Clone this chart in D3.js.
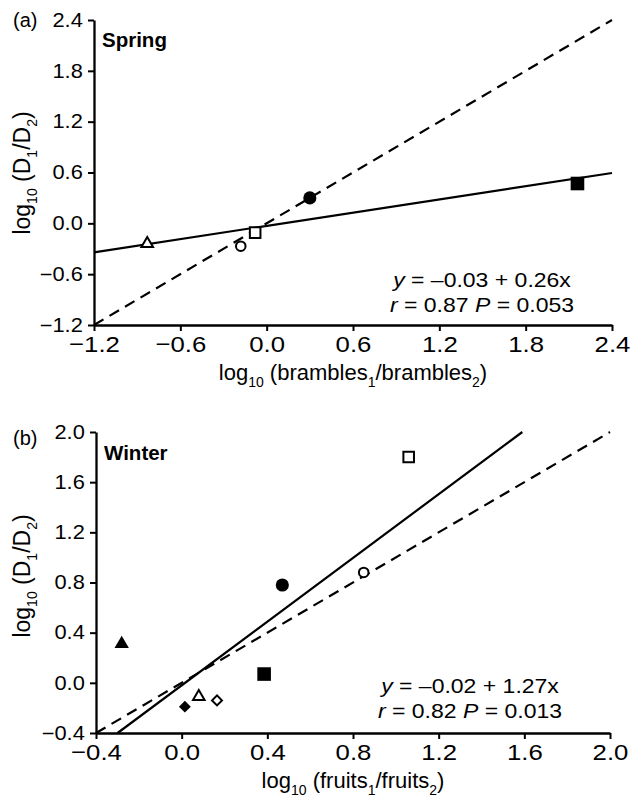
<!DOCTYPE html>
<html>
<head>
<meta charset="utf-8">
<script src="https://cdn.jsdelivr.net/npm/d3@7"></script>
<style>
  body { margin: 0; background: #fff; }
  svg { display: block; font-family: "Liberation Sans", Arial, sans-serif; }
</style>
</head>
<body>
<div id="app"></div>
<script>
// --- data ---
const springX = [-0.83, -0.18, -0.08, 0.30, 2.16];
const springY = [-0.24, -0.27, -0.11, 0.30, 0.47];
const springShapes = ['triangle', 'circle', 'square', 'circle', 'square'];
const springFilled = [false, false, false, true, true];
const springTicks = [-1.2, -0.6, 0, 0.6, 1.2, 1.8, 2.4];
const springFit = [-0.03, 0.26];
const springStats = ['–0.03', '0.26', '0.87', '0.053'];

const winterX = [-0.28, 0.015, 0.08, 0.165, 0.385, 0.47, 0.85, 1.06];
const winterY = [0.31, -0.19, -0.11, -0.14, 0.07, 0.78, 0.88, 1.80];
const winterShapes = ['triangle', 'diamond', 'triangle', 'diamond', 'square', 'circle', 'circle', 'square'];
const winterFilled = [true, true, false, false, true, true, false, false];
const winterTicks = [-0.4, 0, 0.4, 0.8, 1.2, 1.6, 2.0];
const winterFit = [-0.02, 1.27];
const winterStats = ['–0.02', '1.27', '0.82', '0.013'];

// --- layout ---
const W = 642, H = 806;
const font = '"Liberation Sans", Arial, sans-serif';
const stretch = 'scale(1.12,1)';

const panels = [
  {
    tag: '(a)', season: 'Spring', xs: springX, ys: springY, shapes: springShapes,
    filled: springFilled, ticks: springTicks, fit: springFit, stats: springStats,
    xword: 'brambles',
    left: 94, right: 612, top: 20, bottom: 325,
    eqX: 482, eqY: 287, tagY: 27, seasonY: 47, xTitleY: 380, yTitleY: 173,
  },
  {
    tag: '(b)', season: 'Winter', xs: winterX, ys: winterY, shapes: winterShapes,
    filled: winterFilled, ticks: winterTicks, fit: winterFit, stats: winterStats,
    xword: 'fruits',
    left: 96, right: 610, top: 432, bottom: 733,
    eqX: 470, eqY: 693, tagY: 445, seasonY: 460, xTitleY: 788, yTitleY: 576,
  },
];

const markerSize = {
  circle: { true: 135, false: 72 },
  square: { true: 185, false: 112 },
  triangle: { true: 90, false: 58 },
  diamond: { true: 70, false: 50 },
};

const svg = d3.select('#app').append('svg')
  .attr('width', W).attr('height', H);

svg.append('rect').attr('width', W).attr('height', H).attr('fill', '#fff');

// clip a fitted line y = a + b x to the plot's square domain
function fitSegment(fit, dom) {
  const [a, b] = fit;
  return [dom[0], dom[1]].map((x) => {
    let y = a + b * x;
    if (y < dom[0]) { y = dom[0]; x = (y - a) / b; }
    if (y > dom[1]) { y = dom[1]; x = (y - a) / b; }
    return [x, y];
  });
}

function subText(sel, parts) {
  // parts: [text, isSub]
  parts.forEach(([t, isSub], i) => {
    const prevSub = i > 0 && parts[i - 1][1];
    sel.append('tspan')
      .attr('font-size', isSub ? 14 : null)
      .attr('dy', isSub ? 7 : prevSub ? -7 : null)
      .text(t);
  });
}

panels.forEach((p) => {
  const dom = [p.ticks[0], p.ticks[p.ticks.length - 1]];
  const x = d3.scaleLinear().domain(dom).range([p.left, p.right]);
  const y = d3.scaleLinear().domain(dom).range([p.bottom, p.top]);
  const g = svg.append('g');
  const fmt = d3.format('.1f');

  // axes
  const yAxis = g.append('g')
    .attr('transform', `translate(${p.left},0)`)
    .call(d3.axisLeft(y).tickValues(p.ticks).tickFormat(fmt)
      .tickSize(6).tickSizeOuter(0).tickPadding(4));
  const xAxis = g.append('g')
    .attr('transform', `translate(0,${p.bottom})`)
    .call(d3.axisBottom(x).tickValues(p.ticks).tickFormat(fmt)
      .tickSize(6).tickSizeOuter(0).tickPadding(5));

  [yAxis, xAxis].forEach((ax) => {
    ax.attr('font-family', font);
    ax.select('.domain').attr('stroke', '#000').attr('stroke-width', 2.3);
    ax.selectAll('.tick line').attr('stroke', '#000').attr('stroke-width', 2);
    ax.selectAll('.tick text').attr('fill', '#000').attr('transform', stretch);
  });
  yAxis.attr('font-size', 19.5);
  xAxis.attr('font-size', 23);

  // 1:1 line
  const line = d3.line().x((d) => x(d[0])).y((d) => y(d[1]));
  g.append('path')
    .attr('d', line([[dom[0], dom[0]], [dom[1], dom[1]]]))
    .attr('fill', 'none').attr('stroke', '#000')
    .attr('stroke-width', 2.2).attr('stroke-dasharray', '11,7');

  // regression line
  g.append('path')
    .attr('d', line(fitSegment(p.fit, dom)))
    .attr('fill', 'none').attr('stroke', '#000').attr('stroke-width', 2.2);

  // points
  const pts = p.xs.map((v, i) => ({
    x: v, y: p.ys[i], shape: p.shapes[i], filled: p.filled[i],
  }));
  const symType = { circle: d3.symbolCircle, square: d3.symbolSquare, triangle: d3.symbolTriangle, diamond: d3.symbolSquare };
  g.selectAll('path.pt')
    .data(pts)
    .enter()
    .append('path')
    .attr('class', 'pt')
    .attr('transform', (d) => `translate(${x(d.x)},${y(d.y)})` + (d.shape === 'diamond' ? ' rotate(45)' : ''))
    .attr('d', (d) => d3.symbol().type(symType[d.shape]).size(markerSize[d.shape][d.filled])())
    .attr('fill', (d) => (d.filled ? '#000' : '#fff'))
    .attr('stroke', '#000')
    .attr('stroke-width', (d) => (d.filled ? 0 : 2));

  // panel tag and season
  svg.append('text').attr('x', 13).attr('y', p.tagY)
    .attr('font-size', 20).text(p.tag);
  svg.append('text').attr('x', p.left + 8).attr('y', p.seasonY)
    .attr('font-size', 20.5).attr('font-weight', 'bold').text(p.season);

  // equation
  const eq = svg.append('g')
    .attr('transform', `translate(${p.eqX},0) scale(1.15,1)`)
    .attr('font-size', 20).attr('text-anchor', 'middle');
  const l1 = eq.append('text').attr('y', p.eqY);
  l1.append('tspan').attr('font-style', 'italic').text('y');
  l1.append('tspan').text(` = ${p.stats[0]} + ${p.stats[1]}x`);
  const l2 = eq.append('text').attr('y', p.eqY + 25);
  l2.append('tspan').attr('font-style', 'italic').text('r');
  l2.append('tspan').text(` = ${p.stats[2]} `);
  l2.append('tspan').attr('font-style', 'italic').text('P');
  l2.append('tspan').text(` = ${p.stats[3]}`);

  // axis titles
  const xt = svg.append('text')
    .attr('x', (p.left + p.right) / 2).attr('y', p.xTitleY)
    .attr('text-anchor', 'middle').attr('font-size', 22);
  subText(xt, [['log', false], ['10', true], [` (${p.xword}`, false], ['1', true],
    [`/${p.xword}`, false], ['2', true], [')', false]]);

  const yt = svg.append('text')
    .attr('transform', `translate(30,${p.yTitleY}) rotate(-90)`)
    .attr('text-anchor', 'middle').attr('font-size', 23);
  subText(yt, [['log', false], ['10', true], [' (D', false], ['1', true],
    ['/D', false], ['2', true], [')', false]]);
});
</script>
</body>
</html>
